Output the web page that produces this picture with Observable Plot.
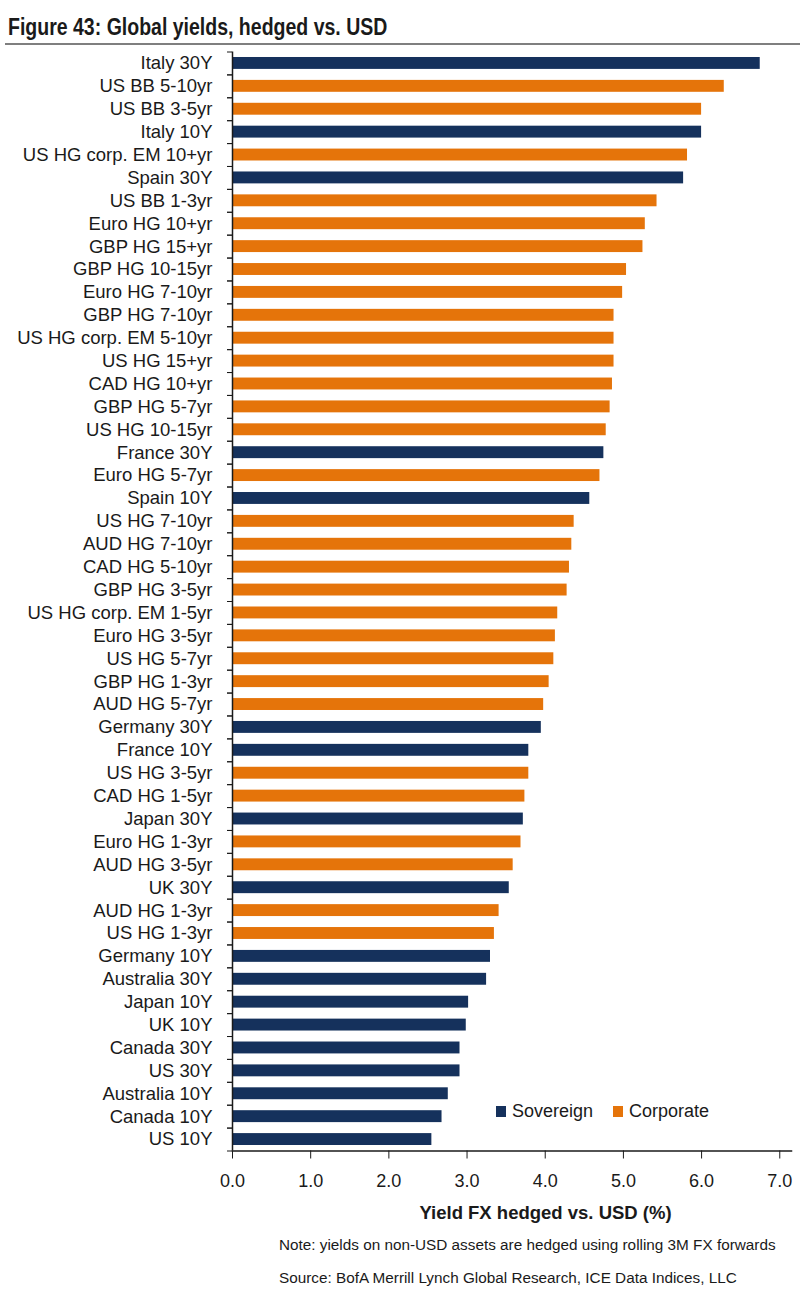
<!DOCTYPE html>
<html>
<head>
<meta charset="utf-8">
<script src="https://cdn.jsdelivr.net/npm/d3@7"></script>
<script src="https://cdn.jsdelivr.net/npm/@observablehq/plot@0.6"></script>
<style>
  html, body { margin: 0; padding: 0; background: #fff; }
  body { width: 800px; height: 1295px; position: relative; overflow: hidden; font-family: "Liberation Sans", Arial, sans-serif; color: #1a1a1a; }
  #title { position: absolute; left: 8px; top: 13px; font-family: "Liberation Sans", Arial, sans-serif; font-weight: bold; font-size: 23.5px; line-height: 28px; color: #1a1a1a; white-space: nowrap; transform: scaleX(0.83); transform-origin: left top; }
  #rule { position: absolute; left: 5px; right: 0; top: 43px; height: 0; border-top: 2px solid #7f7f7f; }
  #chart { position: absolute; left: 0; top: 46px; }
  #legend { position: absolute; left: 496px; top: 1101px; display: flex; align-items: center; font-size: 18px; color: #1a1a1a; }
  #legend .sw { display: inline-block; width: 10px; height: 11px; margin-right: 6px; }
  #legend .item { display: flex; align-items: center; margin-right: 20px; }
  .note { position: absolute; left: 279px; font-size: 15.3px; color: #1a1a1a; white-space: nowrap; }
</style>
</head>
<body>
<div id="title">Figure 43: Global yields, hedged vs. USD</div>
<div id="rule"></div>
<div id="chart"></div>
<div id="legend"></div>
<div class="note" id="note1" style="top:1236px;">Note: yields on non-USD assets are hedged using rolling 3M FX forwards</div>
<div class="note" id="note2" style="top:1269px;">Source: BofA Merrill Lynch Global Research, ICE Data Indices, LLC</div>
<script>
const categories = [
  "Italy 30Y", "US BB 5-10yr", "US BB 3-5yr", "Italy 10Y", "US HG corp. EM 10+yr",
  "Spain 30Y", "US BB 1-3yr", "Euro HG 10+yr", "GBP HG 15+yr", "GBP HG 10-15yr",
  "Euro HG 7-10yr", "GBP HG 7-10yr", "US HG corp. EM 5-10yr", "US HG 15+yr", "CAD HG 10+yr",
  "GBP HG 5-7yr", "US HG 10-15yr", "France 30Y", "Euro HG 5-7yr", "Spain 10Y",
  "US HG 7-10yr", "AUD HG 7-10yr", "CAD HG 5-10yr", "GBP HG 3-5yr", "US HG corp. EM 1-5yr",
  "Euro HG 3-5yr", "US HG 5-7yr", "GBP HG 1-3yr", "AUD HG 5-7yr", "Germany 30Y",
  "France 10Y", "US HG 3-5yr", "CAD HG 1-5yr", "Japan 30Y", "Euro HG 1-3yr",
  "AUD HG 3-5yr", "UK 30Y", "AUD HG 1-3yr", "US HG 1-3yr", "Germany 10Y",
  "Australia 30Y", "Japan 10Y", "UK 10Y", "Canada 30Y", "US 30Y",
  "Australia 10Y", "Canada 10Y", "US 10Y"
];
const yields = [
  6.75, 6.29, 6.00, 6.00, 5.82,
  5.77, 5.43, 5.28, 5.25, 5.04,
  4.99, 4.88, 4.88, 4.88, 4.86,
  4.83, 4.78, 4.75, 4.70, 4.57,
  4.37, 4.34, 4.31, 4.28, 4.16,
  4.13, 4.11, 4.05, 3.98, 3.95,
  3.79, 3.79, 3.74, 3.72, 3.69,
  3.59, 3.54, 3.41, 3.35, 3.30,
  3.25, 3.02, 2.99, 2.91, 2.91,
  2.76, 2.68, 2.55
];
const types = [
  "Sovereign", "Corporate", "Corporate", "Sovereign", "Corporate",
  "Sovereign", "Corporate", "Corporate", "Corporate", "Corporate",
  "Corporate", "Corporate", "Corporate", "Corporate", "Corporate",
  "Corporate", "Corporate", "Sovereign", "Corporate", "Sovereign",
  "Corporate", "Corporate", "Corporate", "Corporate", "Corporate",
  "Corporate", "Corporate", "Corporate", "Corporate", "Sovereign",
  "Sovereign", "Corporate", "Corporate", "Sovereign", "Corporate",
  "Corporate", "Sovereign", "Corporate", "Corporate", "Sovereign",
  "Sovereign", "Sovereign", "Sovereign", "Sovereign", "Sovereign",
  "Sovereign", "Sovereign", "Sovereign"
];
const seriesNames = ["Sovereign", "Corporate"];
const seriesColors = ["#15315c", "#e5740a"];
const xTicks = [0, 1, 2, 3, 4, 5, 6, 7];
const xLabel = "Yield FX hedged vs. USD (%)";

const data = categories.map((name, i) => ({name, value: yields[i], type: types[i]}));

const W = 800, H = 1185, mT = 5.5, mB = 80.5;
const step = (H - mT - mB) / categories.length;

const chart = Plot.plot({
  width: W,
  height: H,
  marginLeft: 232,
  marginRight: 9,
  marginTop: mT,
  marginBottom: mB,
  style: {fontFamily: "'Liberation Sans', Arial, sans-serif", fontSize: "18.5px", color: "#1a1a1a", background: "white"},
  x: {domain: [0, 7.15]},
  y: {domain: categories, paddingInner: 0.48, paddingOuter: 0.24},
  color: {domain: seriesNames, range: seriesColors},
  marks: [
    Plot.barX(data, {x: "value", y: "name", fill: "type"}),
    Plot.axisY({tickSize: 0, tickPadding: 20, fontSize: 18.5, label: null}),
    Plot.axisY({text: null, tickSize: 5, dy: step / 2, stroke: "#1a1a1a", label: null}),
    Plot.axisY({text: null, tickSize: 5, dy: -step / 2, stroke: "#1a1a1a", label: null}),
    Plot.ruleX([0], {stroke: "#1a1a1a", strokeWidth: 1.5}),
    Plot.frame({anchor: "bottom", stroke: "#1a1a1a", strokeWidth: 1.5}),
    Plot.axisX({ticks: xTicks, tickFormat: d => d.toFixed(1), tickSize: 8, tickPadding: 15, fontSize: 18, label: null, stroke: "#1a1a1a"}),
    Plot.text([xLabel], {frameAnchor: "bottom", dy: 68, dx: 33.5, fontWeight: "bold", fontSize: 18.5, fill: "#1a1a1a"})
  ]
});
document.getElementById("chart").appendChild(chart);

const legend = document.getElementById("legend");
seriesNames.forEach((n, i) => {
  const item = document.createElement("div");
  item.className = "item";
  const sw = document.createElement("span");
  sw.className = "sw";
  sw.style.background = seriesColors[i];
  const t = document.createElement("span");
  t.textContent = n;
  item.appendChild(sw);
  item.appendChild(t);
  legend.appendChild(item);
});
</script>
</body>
</html>
